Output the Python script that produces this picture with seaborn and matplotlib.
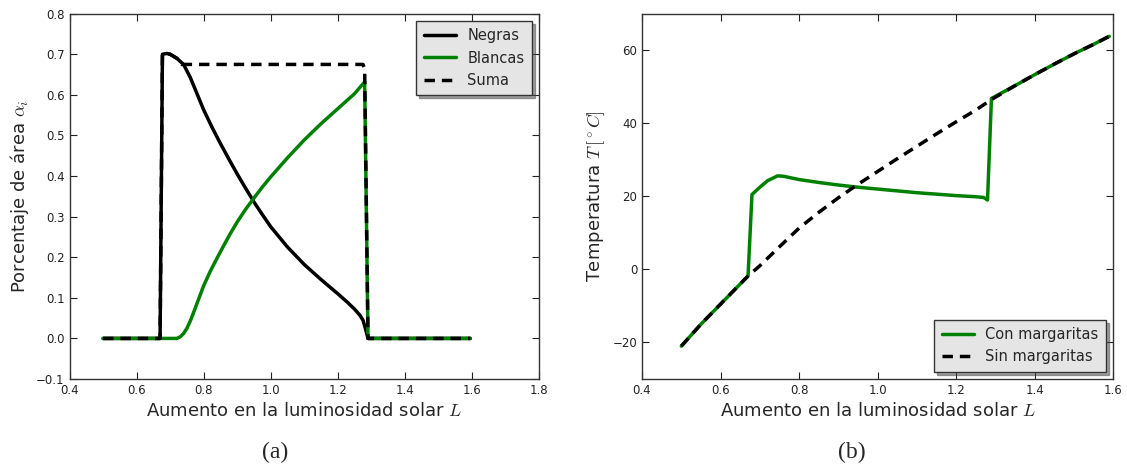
import matplotlib
matplotlib.use("Agg")
import matplotlib.pyplot as plt
import seaborn as sns

# panel (a): porcentaje de area
L_negras = [0.50, 0.60, 0.670, 0.677, 0.69, 0.70, 0.72, 0.74, 0.76, 0.78, 0.80, 0.825, 0.85,
            0.875, 0.90, 0.925, 0.95, 0.975, 1.00, 1.05, 1.10, 1.15, 1.20, 1.23, 1.25, 1.265,
            1.275, 1.282, 1.29, 1.40, 1.50, 1.595]
negras = [0.0, 0.0, 0.0, 0.700, 0.702, 0.700, 0.690, 0.675, 0.643, 0.603, 0.563, 0.520, 0.480,
          0.442, 0.405, 0.370, 0.336, 0.305, 0.275, 0.225, 0.182, 0.145, 0.110, 0.088, 0.072, 0.058,
          0.045, 0.025, 0.0, 0.0, 0.0, 0.0]

L_blancas = [0.50, 0.60, 0.70, 0.72, 0.73, 0.74, 0.75, 0.76, 0.77, 0.78, 0.79, 0.80, 0.82, 0.84,
             0.86, 0.88, 0.90, 0.925, 0.95, 0.975, 1.00, 1.05, 1.10, 1.15, 1.20, 1.25, 1.28, 1.29,
             1.40, 1.50, 1.595]
blancas = [0.0, 0.0, 0.0, 0.0, 0.004, 0.012, 0.025, 0.043, 0.064, 0.086, 0.108, 0.130, 0.166, 0.198,
           0.229, 0.259, 0.287, 0.318, 0.346, 0.373, 0.398, 0.445, 0.489, 0.529, 0.566, 0.603, 0.632,
           0.0, 0.0, 0.0, 0.0]

L_suma = [0.50, 0.60, 0.670, 0.677, 0.69, 0.70, 0.72, 0.735, 0.80, 1.00, 1.20, 1.275, 1.28, 1.29,
          1.40, 1.50, 1.595]
suma = [0.0, 0.0, 0.0, 0.700, 0.702, 0.700, 0.690, 0.675, 0.675, 0.675, 0.675, 0.675, 0.665, 0.0,
        0.0, 0.0, 0.0]

# panel (b): temperatura
L_sin = [0.50, 0.55, 0.60, 0.65, 0.67, 0.70, 0.75, 0.80, 0.85, 0.90, 0.95, 1.00, 1.05, 1.10,
         1.15, 1.20, 1.25, 1.29, 1.35, 1.40, 1.45, 1.50, 1.55, 1.59]
T_sin = [-21.0, -15.0, -9.5, -4.0, -1.8, 1.0, 6.2, 11.3, 15.6, 19.6, 23.3, 26.8, 30.3, 33.7,
         37.1, 40.4, 43.6, 46.5, 50.3, 53.3, 56.2, 59.0, 61.6, 63.8]

L_con = [0.50, 0.55, 0.60, 0.65, 0.67, 0.68, 0.70, 0.72, 0.745, 0.76, 0.80, 0.85, 0.90, 0.95,
         1.00, 1.05, 1.10, 1.15, 1.20, 1.25, 1.27, 1.28, 1.29, 1.35, 1.40, 1.45, 1.50, 1.55, 1.59]
T_con = [-21.0, -15.0, -9.5, -4.0, -1.8, 20.5, 22.5, 24.3, 25.6, 25.5, 24.6, 23.8, 23.1, 22.5,
         22.0, 21.5, 21.0, 20.6, 20.2, 19.9, 19.7, 19.0, 46.8, 50.3, 53.3, 56.2, 59.0, 61.6, 63.8]

sns.set_style("ticks")
plt.rcParams.update({
    "font.family": ["DejaVu Sans"],
    "mathtext.fontset": "cm",
    "xtick.direction": "in",
    "ytick.direction": "in",
    "xtick.top": True,
    "ytick.right": True,
    "xtick.major.size": 5,
    "ytick.major.size": 5,
    "axes.edgecolor": "#333333",
    "axes.linewidth": 1.0,
})

green = "#008000"
fig = plt.figure(figsize=(11.27, 4.72), dpi=100)
ax1 = fig.add_axes([0.0617, 0.197, 0.4166, 0.774])
ax2 = fig.add_axes([0.5697, 0.197, 0.418, 0.774])

kw = dict(estimator=None, sort=False, linewidth=2.5)
sns.lineplot(x=L_negras, y=negras, ax=ax1, color="black", label="Negras", **kw)
sns.lineplot(x=L_blancas, y=blancas, ax=ax1, color=green, label="Blancas", **kw)
sns.lineplot(x=L_suma, y=suma, ax=ax1, color="black", linestyle=(0, (3, 2)), label="Suma", **kw)
ax1.set_xlim(0.4, 1.8)
ax1.set_ylim(-0.1, 0.8)
ax1.set_xlabel(r"Aumento en la luminosidad solar $L$", fontsize=13)
ax1.set_ylabel(r"Porcentaje de área $\alpha_i$", fontsize=13)

sns.lineplot(x=L_con, y=T_con, ax=ax2, color=green, label="Con margaritas", **kw)
sns.lineplot(x=L_sin, y=T_sin, ax=ax2, color="black", linestyle=(0, (3, 2)), label="Sin margaritas", **kw)
ax2.set_xlim(0.4, 1.6)
ax2.set_ylim(-30, 70)
ax2.set_yticks([-20, 0, 20, 40, 60])
ax2.set_xlabel(r"Aumento en la luminosidad solar $L$", fontsize=13)
ax2.set_ylabel(r"Temperatura $T\,[^\circ C]$", fontsize=13)

for ax, loc in [(ax1, "upper right"), (ax2, "lower right")]:
    ax.tick_params(labelsize=8.5, colors="#222222", width=0.8)
    leg = ax.legend(loc=loc, fontsize=10.5, frameon=True, fancybox=False, shadow=True,
                    handlelength=2.2, borderpad=0.5)
    leg.get_frame().set_facecolor("#e5e5e5")
    leg.get_frame().set_edgecolor("#333333")
    leg.get_frame().set_alpha(1)

fig.text(0.244, 0.03, "(a)", fontsize=17, family="Liberation Serif", ha="center")
fig.text(0.756, 0.03, "(b)", fontsize=17, family="Liberation Serif", ha="center")

fig.savefig("out.png", dpi=100)
